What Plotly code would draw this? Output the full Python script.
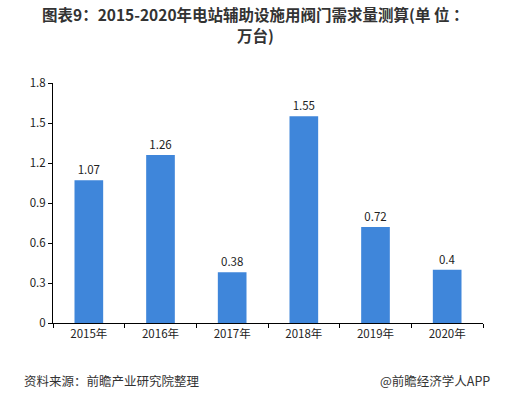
import plotly.graph_objects as go

categories = ["2015年", "2016年", "2017年", "2018年", "2019年", "2020年"]
values = [1.07, 1.26, 0.38, 1.55, 0.72, 0.4]
value_labels = ["1.07", "1.26", "0.38", "1.55", "0.72", "0.4"]
y_ticks = [0, 0.3, 0.6, 0.9, 1.2, 1.5, 1.8]
y_tick_labels = ["0", "0.3", "0.6", "0.9", "1.2", "1.5", "1.8"]
title_lines = ["图表9：2015-2020年电站辅助设施用阀门需求量测算(单 位 ：", "万台)"]

FONT = "Noto Sans CJK SC, DejaVu Sans, sans-serif"

fig = go.Figure(go.Bar(
    x=categories, y=values,
    marker=dict(color="#3F86DA", line=dict(width=0)),
    text=value_labels, textposition="outside",
    textfont=dict(size=11.5, color="#222222", family=FONT),
    cliponaxis=False,
))

fig.update_layout(
    width=516, height=393,
    margin=dict(l=53, r=33, t=83, b=70),
    paper_bgcolor="white", plot_bgcolor="white",
    bargap=0.6,
    showlegend=False,
    font=dict(family=FONT, size=11, color="#222222"),
    xaxis=dict(
        showline=True, linecolor="#000000", linewidth=1,
        ticks="outside", tickson="boundaries", ticklen=4, tickcolor="#000000",
        tickfont=dict(size=11.5, color="#222222"),
        showgrid=False,
    ),
    yaxis=dict(
        range=[0, 1.8], tickvals=y_ticks, ticktext=y_tick_labels,
        showline=True, linecolor="#000000", linewidth=1,
        ticks="outside", ticklen=4, tickcolor="#000000",
        tickfont=dict(size=11.5, color="#222222"),
        showgrid=False, zeroline=False,
    ),
    annotations=[
        dict(text="<b>" + title_lines[0] + "</b>",
             xref="paper", yref="paper", x=0.47, y=1.2875, xanchor="center", yanchor="middle",
             showarrow=False, font=dict(size=15.5, color="#333333", family=FONT)),
        dict(text="<b>" + title_lines[1] + "</b>",
             xref="paper", yref="paper", x=0.47, y=1.2, xanchor="center", yanchor="middle",
             showarrow=False, font=dict(size=15.5, color="#333333", family=FONT)),
        dict(text="资料来源：前瞻产业研究院整理", xref="paper", yref="paper",
             x=-0.072, y=-0.2375, xanchor="left", yanchor="middle", showarrow=False,
             font=dict(size=12.5, color="#333333", family=FONT)),
        dict(text="@前瞻经济学人APP", xref="paper", yref="paper",
             x=1.02, y=-0.2375, xanchor="right", yanchor="middle", showarrow=False,
             font=dict(size=12.5, color="#333333", family=FONT)),
    ],
)

fig.write_html("out.html", config={"displayModeBar": False},
               post_script="document.body.style.margin='0';document.body.style.padding='0';")
